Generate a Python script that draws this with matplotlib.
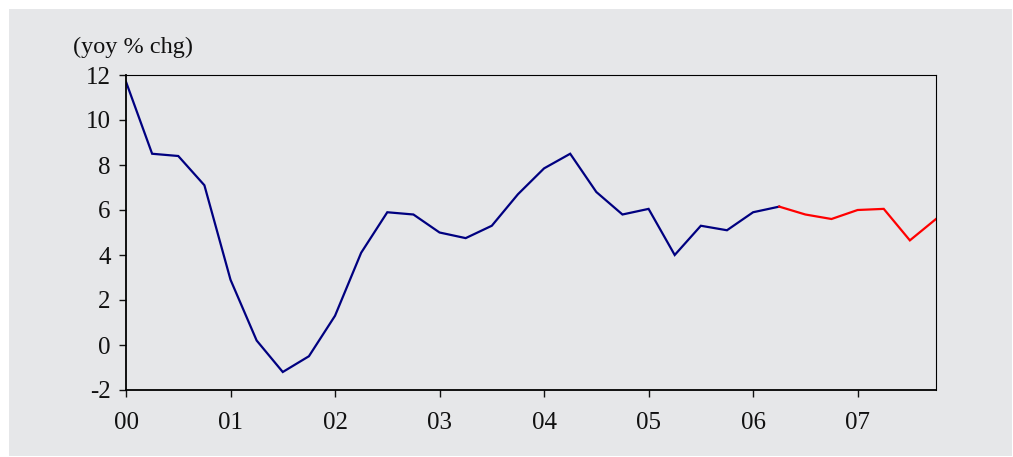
import matplotlib.pyplot as plt
import matplotlib.patches as mpatches
import numpy as np

plt.rcParams["font.family"] = ["Liberation Serif", "DejaVu Serif"]
plt.rcParams["axes.unicode_minus"] = False

# quarterly yoy % change, 2000Q1 .. 2007Q4
actual = [11.7, 8.5, 8.4, 7.1, 2.9, 0.2, -1.2, -0.5, 1.3, 4.1, 5.9, 5.8,
          5.0, 4.75, 5.3, 6.7, 7.85, 8.5, 6.8, 5.8, 6.05, 4.0, 5.3, 5.1,
          5.9, 6.15]
forecast = [6.15, 5.8, 5.6, 6.0, 6.05, 4.65, 5.6]
year_labels = ["00", "01", "02", "03", "04", "05", "06", "07"]

bg = "#e6e7e9"

fig = plt.figure(figsize=(10.13, 4.57), dpi=100, facecolor="white")
fig.patches.append(mpatches.Rectangle((9 / 1013, 1 / 457), 1003 / 1013, 447 / 457,
                                      transform=fig.transFigure, facecolor=bg,
                                      edgecolor="none", zorder=-10))

ax = fig.add_axes([126 / 1013, 1 - 390 / 457, 810 / 1013, 315 / 457])
ax.set_facecolor(bg)

x_act = np.arange(len(actual)) / 4
x_fc = (np.arange(len(forecast)) + len(actual) - 1) / 4
ax.plot(x_act, actual, color="#000080", lw=1.6, solid_joinstyle="miter")
ax.plot(x_fc, forecast, color="#ff0000", lw=1.6, solid_joinstyle="miter")

ax.set_xlim(0, 7.75)
ax.set_ylim(-2, 12)
ax.set_yticks(range(-2, 13, 2))
ax.set_xticks(range(len(year_labels)))
ax.set_xticklabels(year_labels)

for side, s in ax.spines.items():
    s.set_color("black")
    s.set_linewidth(1.3 if side in ("left", "bottom") else 0.8)
ax.tick_params(axis="both", direction="out", length=5, width=1.0,
               labelsize=18, colors="#111111")
ax.tick_params(axis="x", pad=11)
ax.tick_params(axis="y", pad=6)

fig.text(73 / 1013, 1 - 47 / 457, "(yoy % chg)", fontsize=17.5,
         ha="left", va="center", color="#111111")

fig.savefig("out.png", dpi=100, facecolor="white")
